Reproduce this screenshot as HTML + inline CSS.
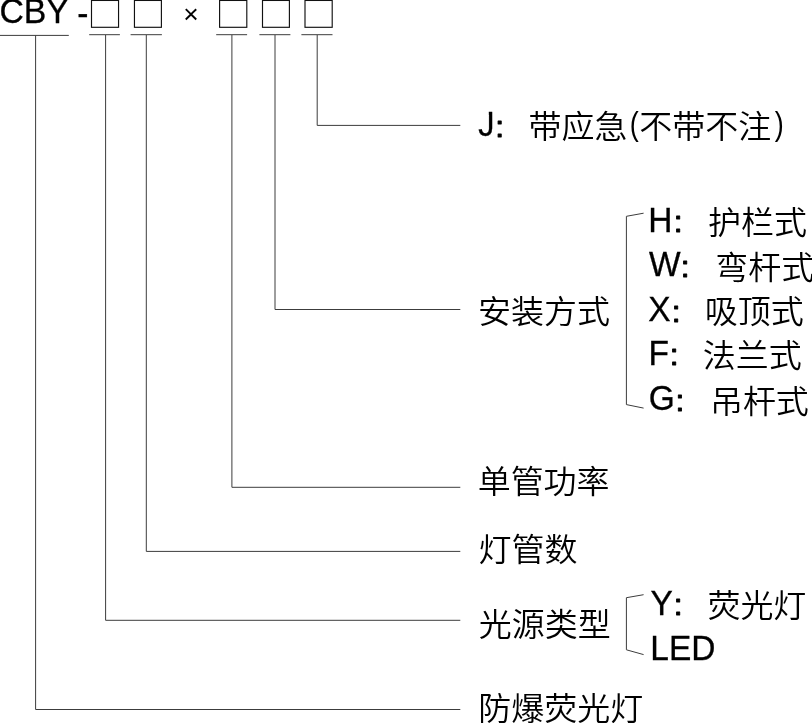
<!DOCTYPE html>
<html lang="zh-CN">
<head>
<meta charset="utf-8">
<title>CBY 防爆荧光灯 型号含义</title>
<style>
html,body{margin:0;padding:0;background:#fff;}
body{width:812px;height:723px;overflow:hidden;position:relative;}
svg{position:absolute;left:0;top:0;display:block;will-change:transform;}
text{font-family:"Liberation Sans","Noto Sans CJK SC",sans-serif;font-size:33.5px;fill:#000;white-space:pre;}
.l{stroke:#000;stroke-width:0.3px;}
.m{stroke:none;}
.k{stroke:#000;stroke-width:0.9px;stroke-linejoin:round;}
.c{font-size:33px;font-family:"Liberation Sans","Noto Sans CJK SC DemiLight","Noto Sans CJK SC",sans-serif;font-weight:350;}
.ln{stroke:#3c3c3c;stroke-width:1;fill:none;}
.bx{stroke:#111;stroke-width:1.15;fill:none;}
</style>
</head>
<body>
<svg width="812" height="723" viewBox="0 0 812 723">
  <defs><clipPath id="jclip"><path d="M-5 -19.7H11V-30H40V10H-5Z"/></clipPath></defs>
  <!-- placeholder boxes -->
  <rect class="bx" x="91.5" y="0.45" width="27.05" height="26.85"/>
  <rect class="bx" x="134.45" y="0.45" width="26.95" height="26.85"/>
  <rect class="bx" x="219.6" y="0.45" width="27.2" height="26.85"/>
  <rect class="bx" x="262.5" y="0.45" width="26.9" height="26.85"/>
  <rect class="bx" x="305" y="0.45" width="27.2" height="26.85"/>
  <!-- underlines -->
  <path class="ln" d="M0 35.4H68.8"/>
  <path class="ln" d="M89.2 34.7H119.9 M130.6 34.7H161.9 M216.2 34.7H247.1 M259.4 34.7H290.4 M301.4 34.7H332.5"/>
  <!-- leader lines -->
  <path class="ln" d="M317.2 35V125.4H460.3"/>
  <path class="ln" d="M275 35V309.5H460.3"/>
  <path class="ln" d="M231.9 35V487.3H460.3"/>
  <path class="ln" d="M146.3 35V551.4H460.3"/>
  <path class="ln" d="M105.6 35V620.3H460.3"/>
  <path class="ln" d="M35.6 35.4V709.5H460.3"/>
  <!-- brackets -->
  <path class="ln" d="M643.6 213.2L626.4 216.3V404.6L643.6 408.1"/>
  <path class="ln" d="M643.6 594.7L626.4 597.7V649.8L643.6 654.6"/>
  <g class="header">
    <text id="cby" class="l" style="font-size:33.8px" transform="translate(-0.60 23.20) scale(1 1.015)">CBY</text>
    <text id="dash" class="l" transform="translate(77.35 25.25) scale(1 1.1)">-</text>
    <text id="mul" class="m" style="font-size:26.5px" transform="translate(183.30 23.05) scale(1 1)">×</text>
  </g>
  <g class="row-j">
    <text id="j" class="l" clip-path="url(#jclip)" transform="translate(478.15 135.80) scale(0.97 1.025)">J</text>
    <text id="jc" class="k" transform="translate(495.03 136.70) scale(1 0.885)">:</text>
    <text id="t1" class="c" transform="translate(528.60 137.75) scale(1 0.96)">带应急</text>
    <text id="p1" class="m" style="font-size:33px" transform="translate(629.65 135.00) scale(0.82 0.99)">(</text>
    <text id="t2" class="c" transform="translate(639.25 137.75) scale(1 0.96)">不带不注</text>
    <text id="p2" class="m" style="font-size:33px" transform="translate(774.65 135.00) scale(0.82 0.99)">)</text>
  </g>
  <g class="row-mount">
    <text id="az" class="c" transform="translate(478.10 322.85) scale(1 0.96)">安装方式</text>
  </g>
  <g class="opt-h">
    <text id="h" class="l" transform="translate(648.30 232.05) scale(1 1.025)">H</text>
    <text id="hc" class="k" transform="translate(673.40 232.45) scale(1 0.885)">:</text>
    <text id="ht" class="c" transform="translate(708.10 234.30) scale(1 0.96)">护栏式</text>
  </g>
  <g class="opt-w">
    <text id="w" class="l" transform="translate(649.05 275.85) scale(1 1.025)">W</text>
    <text id="wc" class="k" transform="translate(680.58 276.70) scale(1 0.885)">:</text>
    <text id="wt" class="c" transform="translate(715.30 278.90) scale(1 0.96)">弯杆式</text>
  </g>
  <g class="opt-x">
    <text id="x" class="l" transform="translate(648.35 320.80) scale(1 1.025)">X</text>
    <text id="xc" class="k" transform="translate(671.50 321.50) scale(1 0.885)">:</text>
    <text id="xt" class="c" transform="translate(704.75 323.25) scale(1 0.96)">吸顶式</text>
  </g>
  <g class="opt-f">
    <text id="f" class="l" transform="translate(648.40 365.20) scale(1 1.025)">F</text>
    <text id="fc" class="k" transform="translate(669.45 365.45) scale(1 0.885)">:</text>
    <text id="ft" class="c" transform="translate(702.85 367.35) scale(1 0.96)">法兰式</text>
  </g>
  <g class="opt-g">
    <text id="g" class="l" transform="translate(648.80 409.90) scale(1 1.025)">G</text>
    <text id="gc" class="k" transform="translate(675.30 410.65) scale(1 0.885)">:</text>
    <text id="gt" class="c" transform="translate(709.90 412.60) scale(1 0.96)">吊杆式</text>
  </g>
  <g class="row-power">
    <text id="dg" class="c" transform="translate(477.65 492.80) scale(1 0.96)">单管功率</text>
  </g>
  <g class="row-count">
    <text id="dgs" class="c" transform="translate(478.50 561.00) scale(1 0.96)">灯管数</text>
  </g>
  <g class="row-source">
    <text id="gy" class="c" transform="translate(478.75 636.05) scale(1 0.96)">光源类型</text>
  </g>
  <g class="opt-y">
    <text id="y" class="l" transform="translate(650.45 615.00) scale(1 1.025)">Y</text>
    <text id="yc" class="k" transform="translate(673.62 615.40) scale(1 0.885)">:</text>
    <text id="yt" class="c" transform="translate(707.40 617.35) scale(1 0.96)">荧光灯</text>
  </g>
  <g class="opt-led">
    <text id="led" class="l" transform="translate(650.35 660.10) scale(1 1.025)">LED</text>
  </g>
  <g class="row-name">
    <text id="fb" class="c" transform="translate(478.25 719.85) scale(1 0.96)">防爆荧光灯</text>
  </g>
</svg>
</body>
</html>
